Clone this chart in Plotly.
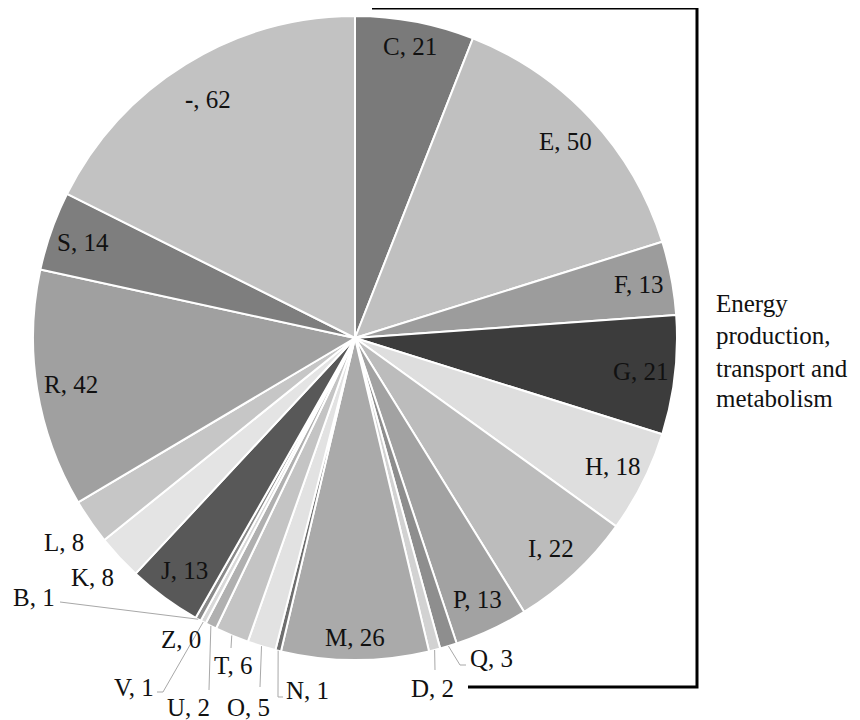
import math
import plotly.graph_objects as go

# ---- data ----
categories = ["C", "E", "F", "G", "H", "I", "P", "Q", "D", "M", "N", "O",
              "T", "U", "V", "Z", "B", "J", "K", "L", "R", "S", "-"]
counts = [21, 50, 13, 21, 18, 22, 13, 3, 2, 26, 1, 5,
          6, 2, 1, 0, 1, 13, 8, 8, 42, 14, 62]
bracket_text = ["Energy", "production,", "transport and", "metabolism"]

# ---- style ----
slice_colors = ["#7a7a7a", "#c0c0c0", "#9c9c9c", "#3c3c3c", "#dedede", "#bcbcbc",
                "#a2a2a2", "#8e8e8e", "#d2d2d2", "#aaaaaa", "#6e6e6e", "#e2e2e2",
                "#c4c4c4", "#b0b0b0", "#d8d8d8", "#999999", "#8a8a8a", "#585858",
                "#e4e4e4", "#c6c6c6", "#a0a0a0", "#7e7e7e", "#c2c2c2"]
FONT = "Liberation Serif, Times New Roman, serif"
FS = 25
W, H = 860, 720
OFF = 8  # page body margin
CX, CY, R = 355, 338, 322


def px(x):
    return (x - OFF) / W


def py(y):
    return 1 - (y - OFF) / H


fig = go.Figure(go.Pie(
    labels=categories, values=counts, sort=False, direction="clockwise",
    rotation=0, textinfo="none", hoverinfo="skip", showlegend=False,
    marker=dict(colors=slice_colors, line=dict(color="white", width=2)),
    domain=dict(x=[px(CX - R), px(CX + R)], y=[py(CY + R), py(CY - R)]),
))

total = sum(counts)
mid = {}
cum = 0
for c, v in zip(categories, counts):
    mid[c] = (cum + v / 2) / total * 2 * math.pi
    cum += v
value = dict(zip(categories, counts))


def polar(c, r):
    a = mid[c]
    return CX + r * math.sin(a), CY - r * math.cos(a)


def label_text(c):
    name = "<b>-</b>" if c == "-" else c
    return f"{name}, {value[c]}"


annotations = []
shapes = []

inside = ["C", "E", "F", "G", "H", "I", "P", "M", "J", "R", "S", "-"]
rad = {"C": 0.92, "-": 0.87, "M": 0.93}
for c in inside:
    x, y = polar(c, R * rad.get(c, 0.895))
    annotations.append(dict(x=px(x), y=py(y), xref="paper", yref="paper",
                            text=label_text(c), showarrow=False,
                            xanchor="center", yanchor="middle",
                            font=dict(family=FONT, size=FS, color="#111")))

outside = {
    "Q": dict(pos=(468, 658), anchor="left", path=[(460, 665), (466, 665)]),
    "D": dict(pos=(432, 688), anchor="center", path=[(435, 670)]),
    "N": dict(pos=(284, 690), anchor="left", path=[(278, 697), (283, 697)]),
    "O": dict(pos=(248, 707), anchor="center", path=[(260, 687)]),
    "T": dict(pos=(233, 665), anchor="center", path=[(231, 648)]),
    "U": dict(pos=(188, 707), anchor="center", path=[(209, 690)]),
    "V": dict(pos=(156, 687), anchor="right", path=[(163, 692), (157, 692)]),
    "Z": dict(pos=(181, 639), anchor="center", path=[]),
    "B": dict(pos=(57, 597), anchor="right", path=[(60, 602)]),
    "K": dict(pos=(92, 577), anchor="center", path=[]),
    "L": dict(pos=(64, 542), anchor="center", path=[]),
}
for c, o in outside.items():
    x, y = o["pos"]
    annotations.append(dict(x=px(x), y=py(y), xref="paper", yref="paper",
                            text=label_text(c), showarrow=False,
                            xanchor=o["anchor"], yanchor="middle",
                            font=dict(family=FONT, size=FS, color="#111")))
    if o["path"]:
        pts = [polar(c, R)] + o["path"]
        d = "M " + " L ".join(f"{px(a):.5f},{py(b):.5f}" for a, b in pts)
        shapes.append(dict(type="path", xref="paper", yref="paper", path=d,
                           line=dict(color="#a8a8a8", width=1)))

# bracket
bx, btop, bbot = 697, 8, 687
d = (f"M {px(372):.5f},{py(btop):.5f} L {px(bx):.5f},{py(btop):.5f} "
     f"L {px(bx):.5f},{py(bbot):.5f} L {px(468):.5f},{py(bbot):.5f}")
shapes.append(dict(type="path", xref="paper", yref="paper", path=d,
                   line=dict(color="black", width=3)))

line_y = [303, 336, 368, 399]
for t, yy in zip(bracket_text, line_y):
    annotations.append(dict(x=px(714), y=py(yy), xref="paper", yref="paper",
                            text=t, showarrow=False, xanchor="left",
                            yanchor="middle",
                            font=dict(family=FONT, size=FS, color="#111")))

fig.update_layout(width=W, height=H, margin=dict(l=0, r=0, t=0, b=0),
                  paper_bgcolor="white", plot_bgcolor="white",
                  annotations=annotations, shapes=shapes)
fig.write_html("out.html")
